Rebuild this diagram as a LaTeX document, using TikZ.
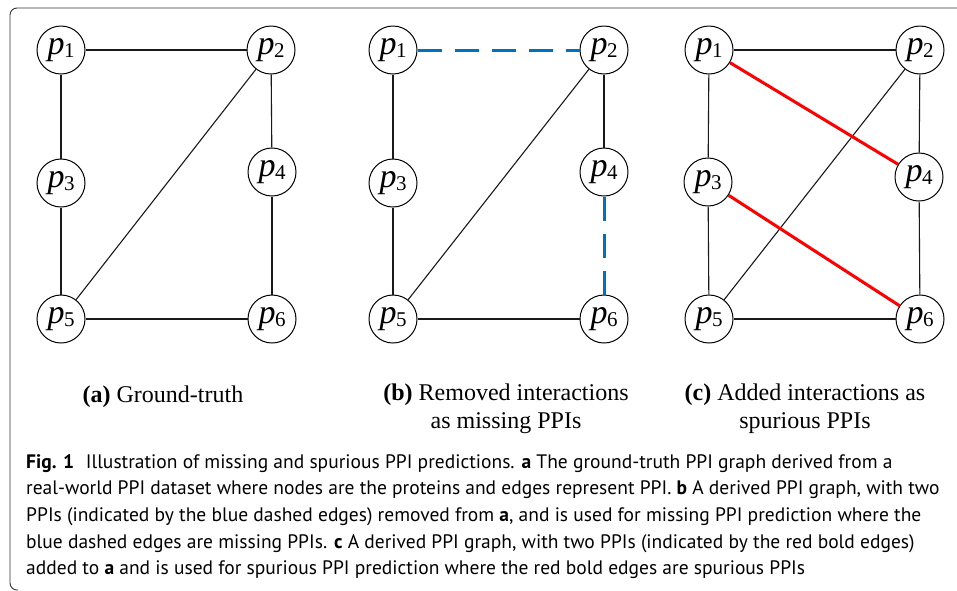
\documentclass[tikz,border=0pt]{standalone}
\usepackage{fontspec}
\setmainfont{Liberation Serif}
\newfontfamily\capfont{PT Sans}

\definecolor{missblue}{RGB}{0,112,192}
\definecolor{spured}{RGB}{255,0,0}

% protein label p_i
\newcommand{\prot}[1]{{\itshape p}\kern-0.5pt\raisebox{-3pt}{\fontsize{21}{21}\selectfont #1}}

\tikzset{
	protein/.style={draw, circle, line width=1pt, minimum size=48pt, inner sep=0pt,
		font=\fontsize{34}{34}\selectfont},
	edge/.style={line width=1.1pt, draw=black!90},
	missing/.style={line width=3pt, draw=missblue, dash pattern=on 24pt off 13pt},
	spurious/.style={line width=3pt, draw=spured},
	subcap/.style={font=\fontsize{24}{28}\selectfont, align=center}
}

\begin{document}
\begin{tikzpicture}[x=1pt,y=-1pt]
	\useasboundingbox (0,0) rectangle (957,590);
	%\draw[help lines,step=50pt] (0,0) grid (957,590);

	% frame
	\draw[line width=0.9pt, draw=black!80, rounded corners=7pt]
		(957,8) -- (10,8) -- (10,590) -- (18,590);

	\path
	coordinate (a1) at (61,50)
	coordinate (a2) at (271,50)
	coordinate (a3) at (61,183)
	coordinate (a4) at (272,172)
	coordinate (a5) at (61,319)
	coordinate (a6) at (272,319)
	coordinate (b1) at (393,50)
	coordinate (b2) at (604,50)
	coordinate (b3) at (393,183)
	coordinate (b4) at (604,172)
	coordinate (b5) at (393,319)
	coordinate (b6) at (604,319)
	coordinate (c1) at (709,50)
	coordinate (c2) at (920,50)
	coordinate (c3) at (708,182)
	coordinate (c4) at (919,177)
	coordinate (c5) at (709,319)
	coordinate (c6) at (920,319)
	;

	% nodes of the three graphs
	\foreach \g in {a,b,c}{
		\foreach \i in {1,...,6}{
			\node[protein] (p\g\i) at (\g\i) {\prot{\i}};
		}
	}

	% (a) ground truth
	\draw[edge] (pa1) -- (pa2);
	\draw[edge] (pa1) -- (pa3);
	\draw[edge] (pa3) -- (pa5);
	\draw[edge] (pa5) -- (pa6);
	\draw[edge] (pa2) -- (pa4);
	\draw[edge] (pa4) -- (pa6);
	\draw[edge] (pa2) -- (pa5);

	% (b) removed interactions
	\draw[missing] (pb1) -- (pb2);
	\draw[missing] (pb4) -- (pb6);
	\draw[edge] (pb1) -- (pb3);
	\draw[edge] (pb3) -- (pb5);
	\draw[edge] (pb5) -- (pb6);
	\draw[edge] (pb2) -- (pb4);
	\draw[edge] (pb2) -- (pb5);

	% (c) added interactions
	\draw[edge] (pc1) -- (pc2);
	\draw[edge] (pc1) -- (pc3);
	\draw[edge] (pc3) -- (pc5);
	\draw[edge] (pc5) -- (pc6);
	\draw[edge] (pc2) -- (pc4);
	\draw[edge] (pc4) -- (pc6);
	\draw[edge] (pc2) -- (pc5);
	\draw[spurious] (pc1) -- (pc4);
	\draw[spurious] (pc3) -- (pc6);

	% sub captions
	\node[subcap] (capa) at (163,397) {\textbf{(a)} Ground-truth};
	\node[subcap] (capb) at (506,409) {\textbf{(b)} Removed interactions\\as missing PPIs};
	\node[subcap] (capc) at (805,409) {\textbf{(c)} Added interactions as\\spurious PPIs};

	% figure caption
	\node[anchor=north west, inner sep=0pt, align=left,
		font=\capfont\fontsize{19.5}{26.7}\selectfont] (figcap) at (26,454)
		{\textbf{Fig. 1}\hspace{0.6em}Illustration of missing and spurious PPI predictions. \textbf{a} The ground-truth PPI graph derived from a\\
		real-world PPI dataset where nodes are the proteins and edges represent PPI. \textbf{b} A derived PPI graph, with two\\
		PPIs (indicated by the blue dashed edges) removed from \textbf{a}, and is used for missing PPI prediction where the\\
		blue dashed edges are missing PPIs. \textbf{c} A derived PPI graph, with two PPIs (indicated by the red bold edges)\\
		added to \textbf{a} and is used for spurious PPI prediction where the red bold edges are spurious PPIs};

\end{tikzpicture}
\end{document}
